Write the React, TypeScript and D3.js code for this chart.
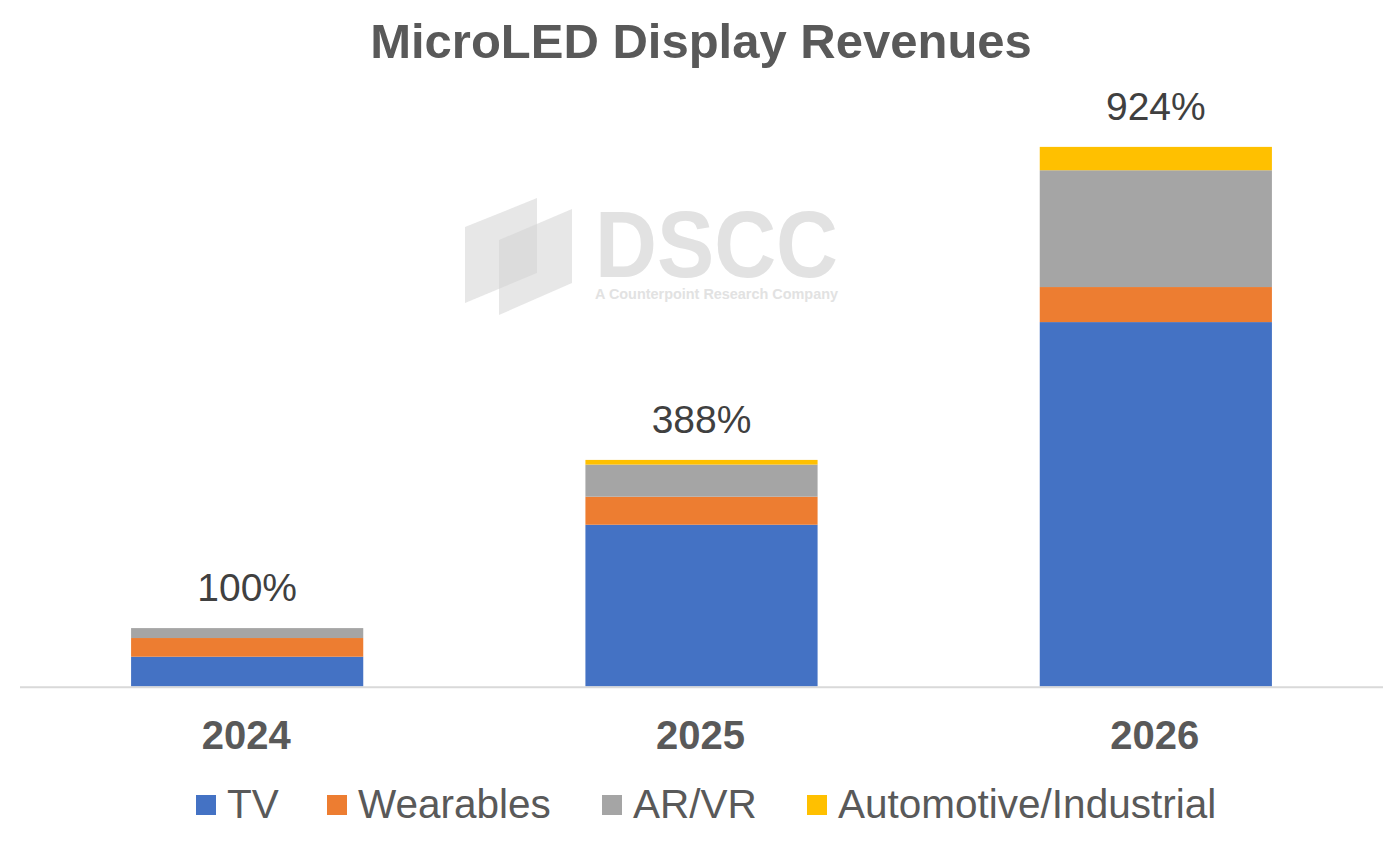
import React from "react";
import * as d3 from "d3";

const years = ["2024", "2025", "2026"];
const seriesNames = ["TV", "Wearables", "AR/VR", "Automotive/Industrial"];
const seriesColors = ["#4472C4", "#ED7D31", "#A5A5A5", "#FFC000"];
const tv = [51, 277, 624];
const wearables = [32, 48, 60];
const arvr = [17, 55, 200];
const automotive = [0, 8, 40];
const totalLabels = ["100%", "388%", "924%"];

const W = 1400;
const H = 842;

export default function App() {
  const x = d3
    .scaleBand<string>()
    .domain(years)
    .range([20, 1383])
    .paddingInner(0.489)
    .paddingOuter(0.2445);
  const y = d3.scaleLinear().domain([0, 1000]).range([686.5, 102.5]);

  const rows = years.map((yr, i) => ({
    year: yr,
    TV: tv[i],
    Wearables: wearables[i],
    "AR/VR": arvr[i],
    "Automotive/Industrial": automotive[i],
  }));
  const stacked = d3.stack<any>().keys(seriesNames)(rows);

  const legendX = [196, 327, 602, 807];
  const font = "'Liberation Sans', Arial, sans-serif";

  return (
    <svg
      width={W}
      height={H}
      style={{ position: "absolute", left: 0, top: 0, background: "#fff" }}
      fontFamily={font}
    >
      <rect x={0} y={0} width={W} height={H} fill="#fff" />
      {/* watermark */}
      <g>
        <polygon points="465,227 537,198 537,273 465,303" fill="#d4d4d4" opacity={0.55} />
        <polygon points="499,240 572,209 572,283 499,315" fill="#d4d4d4" opacity={0.55} />
        <text
          x={595}
          y={277}
          fontSize={94}
          fontWeight="bold"
          fill="#e2e2e2"
          textLength={243}
          lengthAdjust="spacingAndGlyphs"
        >
          DSCC
        </text>
        <text
          x={595}
          y={299}
          fontSize={14}
          fontWeight="bold"
          fill="#e2e2e2"
          textLength={243}
          lengthAdjust="spacingAndGlyphs"
        >
          A Counterpoint Research Company
        </text>
      </g>

      <text x={701} y={58} textAnchor="middle" fontSize={49} fontWeight="bold" fill="#595959">
        MicroLED Display Revenues
      </text>

      {stacked.map((s, si) => (
        <g key={s.key} fill={seriesColors[si]}>
          {s.map((d, i) => {
            const h = y(d[0]) - y(d[1]);
            if (h <= 0) return null;
            return (
              <rect
                key={i}
                x={x(years[i])}
                y={y(d[1])}
                width={x.bandwidth()}
                height={h}
              />
            );
          })}
        </g>
      ))}

      <line x1={20} x2={1383} y1={687.3} y2={687.3} stroke="#d9d9d9" strokeWidth={2} />

      {years.map((yr, i) => {
        const total = tv[i] + wearables[i] + arvr[i] + automotive[i];
        const cx = (x(yr) as number) + x.bandwidth() / 2;
        return (
          <g key={yr}>
            <text x={cx} y={y(total) - 27} textAnchor="middle" fontSize={39} fill="#404040">
              {totalLabels[i]}
            </text>
            <text x={cx - 1} y={749} textAnchor="middle" fontSize={40} fontWeight="bold" fill="#595959">
              {yr}
            </text>
          </g>
        );
      })}

      {seriesNames.map((name, i) => (
        <g key={name}>
          <rect x={legendX[i]} y={795} width={20} height={20} fill={seriesColors[i]} />
          <text x={legendX[i] + 31} y={817.5} fontSize={40.5} fill="#595959">
            {name}
          </text>
        </g>
      ))}
    </svg>
  );
}
